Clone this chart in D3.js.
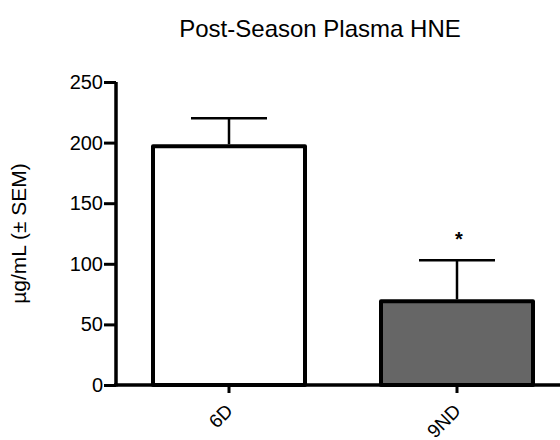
<!DOCTYPE html>
<html>
<head>
<meta charset="utf-8">
<script src="https://cdn.jsdelivr.net/npm/d3@7"></script>
<style>
    body { margin: 0; background: #fff; }
    text { font-family: "Liberation Sans", Arial, sans-serif; fill: #000; }
</style>
</head>
<body>
<div id="chart"></div>
<script>
const groups = ['6D', '9ND'];
const means = [197, 69];
const sems = [23, 34];
const fills = ['#ffffff', '#666666'];
const marks = ['', '*'];
const yTicks = [0, 50, 100, 150, 200, 250];

const WIDTH = 560;
const HEIGHT = 440;

const svg = d3.select('#chart')
    .append('svg')
    .attr('width', WIDTH)
    .attr('height', HEIGHT);

const xScale = d3.scaleBand()
    .domain(groups)
    .range([115, 571])
    .paddingInner(1 / 3)
    .paddingOuter(1 / 6);

const yScale = d3.scaleLinear()
    .domain([0, 250])
    .range([385, 82]);

// bars
svg.selectAll('.bar')
    .data(groups)
    .enter()
    .append('rect')
    .attr('class', 'bar')
    .attr('x', d => xScale(d))
    .attr('y', (d, i) => yScale(means[i]))
    .attr('width', xScale.bandwidth())
    .attr('height', (d, i) => yScale(0) - yScale(means[i]))
    .attr('fill', (d, i) => fills[i])
    .attr('stroke', '#000')
    .attr('stroke-width', 4)
    .attr('stroke-linejoin', 'round');

// error bars (upper only)
const errG = svg.append('g')
    .attr('stroke', '#000')
    .attr('stroke-width', 2.5);

groups.forEach((g, i) => {
    const cx = xScale(g) + xScale.bandwidth() / 2;
    const capHalf = xScale.bandwidth() / 4;
    errG.append('line')
        .attr('x1', cx).attr('x2', cx)
        .attr('y1', yScale(means[i]) - 2)
        .attr('y2', yScale(means[i] + sems[i]));
    errG.append('line')
        .attr('x1', cx - capHalf).attr('x2', cx + capHalf)
        .attr('y1', yScale(means[i] + sems[i]))
        .attr('y2', yScale(means[i] + sems[i]));
    if (marks[i]) {
        svg.append('text')
            .attr('x', cx + 2)
            .attr('y', yScale(means[i] + sems[i]) - 14)
            .attr('text-anchor', 'middle')
            .style('font-size', '20px')
            .style('font-weight', 'bold')
            .text(marks[i]);
    }
});

// y axis
const yAxis = d3.axisLeft(yScale)
    .tickValues(yTicks)
    .tickSize(12)
    .tickPadding(1)
    .tickFormat(d3.format('d'));

const yAxisG = svg.append('g')
    .attr('transform', 'translate(116,0)')
    .call(yAxis);
yAxisG.select('.domain')
    .attr('d', `M0,${yScale(250)}V${yScale(0) + 1.5}`)
    .attr('stroke-width', 3.5);
yAxisG.selectAll('.tick line').attr('stroke-width', 3);
yAxisG.selectAll('.tick text')
    .attr('font-family', null)
    .attr('font-size', null)
    .style('font-size', '20px');

// x axis
const xAxis = d3.axisBottom(xScale)
    .tickSize(8)
    .tickSizeOuter(0);

const xAxisG = svg.append('g')
    .attr('transform', `translate(0,${yScale(0)})`)
    .call(xAxis);
xAxisG.select('.domain')
    .attr('d', `M114,0H571`)
    .attr('stroke-width', 3.5);
xAxisG.selectAll('.tick line').attr('stroke-width', 3);
xAxisG.selectAll('.tick text')
    .attr('font-family', null)
    .attr('font-size', null)
    .style('font-size', '19px')
    .attr('text-anchor', 'end')
    .attr('dy', null)
    .attr('y', 0)
    .attr('transform', 'translate(5,27) rotate(-45)');

// y axis title
svg.append('text')
    .attr('transform', `translate(26,${(yScale(0) + yScale(250)) / 2}) rotate(-90)`)
    .attr('text-anchor', 'middle')
    .style('font-size', '21px')
    .text('µg/mL (± SEM)');

// title
svg.append('text')
    .attr('x', 320)
    .attr('y', 37)
    .attr('text-anchor', 'middle')
    .style('font-size', '24px')
    .text('Post-Season Plasma HNE');
</script>
</body>
</html>
